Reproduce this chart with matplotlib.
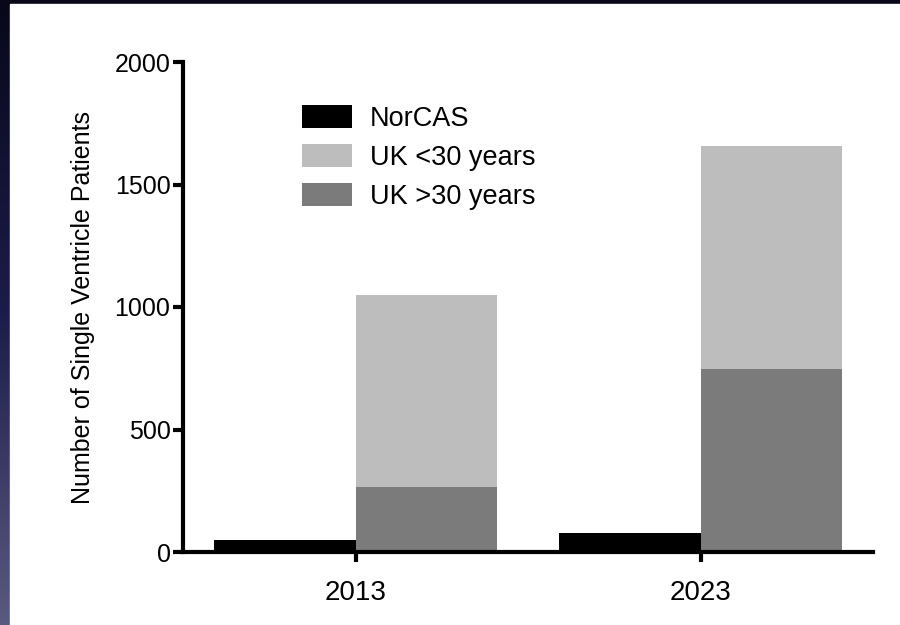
import numpy as np
import matplotlib.pyplot as plt
from matplotlib.colors import LinearSegmentedColormap

years = ["2013", "2023"]
norcas = [50, 78]
uk_over30 = [265, 748]
uk_under30 = [785, 910]

plt.rcParams['font.family'] = ['Liberation Sans', 'DejaVu Sans']

fig = plt.figure(figsize=(9, 6.25), dpi=100)
fig.patch.set_facecolor('white')

# dark slide border on the top and left edge
bg = fig.add_axes([0, 0, 1, 1], zorder=-10)
grad = np.linspace(0, 1, 256).reshape(-1, 1)
cmap = LinearSegmentedColormap.from_list('slide', ['#08081a', '#1c1c4a', '#5a5a80'])
bg.imshow(grad, aspect='auto', cmap=cmap, extent=[0, 1, 0, 1], origin='upper')
bg.add_patch(plt.Rectangle((10 / 900, 0), 1, 1 - 4 / 625, color='white', zorder=2))
bg.set_xlim(0, 1)
bg.set_ylim(0, 1)
bg.axis('off')

ax = fig.add_axes([183 / 900, 1 - 552 / 625, (873 - 183) / 900, (552 - 62) / 625])
ax.set_facecolor('none')

x = np.arange(len(years))
w = 0.41
ax.bar(x - w / 2, norcas, w, color='black', label='NorCAS')
ax.bar(x + w / 2, uk_under30, w, bottom=uk_over30, color='#bdbdbd', label='UK <30 years')
ax.bar(x + w / 2, uk_over30, w, color='#7b7b7b', label='UK >30 years')

ax.set_xlim(-0.5, 1.5)
ax.set_ylim(0, 2000)
ax.set_yticks([0, 500, 1000, 1500, 2000])
ax.set_xticks(x)
ax.set_xticklabels(years)
for s in ['top', 'right']:
    ax.spines[s].set_visible(False)
for s in ['left', 'bottom']:
    ax.spines[s].set_linewidth(3)
ax.tick_params(axis='both', width=3, length=7, pad=2)
ax.tick_params(axis='y', labelsize=18)
ax.tick_params(axis='x', labelsize=20, pad=13)
ax.set_ylabel('Number of Single Ventricle Patients', fontsize=18, labelpad=14)

ax.legend(loc='upper left', bbox_to_anchor=(0.172, 0.912), frameon=False, fontsize=19.5,
          borderpad=0, borderaxespad=0, handlelength=1.85, handleheight=0.93,
          labelspacing=0.45, handletextpad=0.67)

fig.savefig('out.png', dpi=100)
